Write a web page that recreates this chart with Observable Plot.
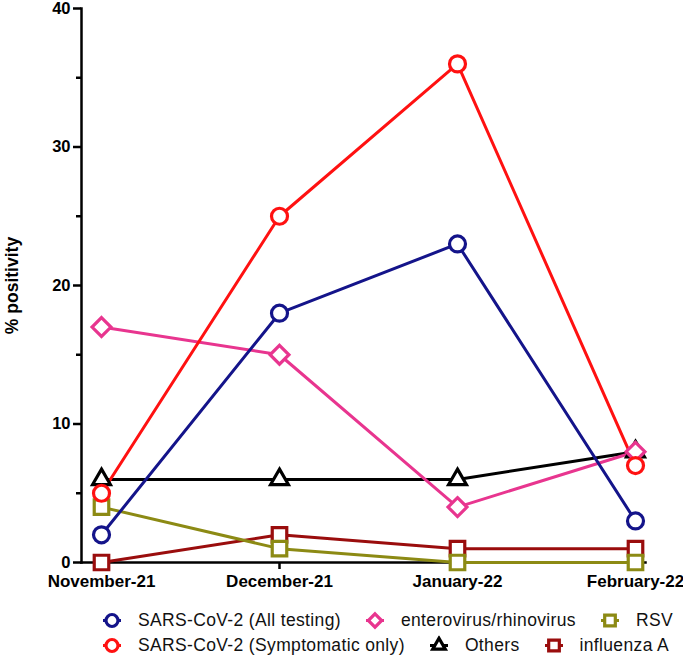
<!DOCTYPE html>
<html><head><meta charset="utf-8">
<script src="https://cdn.jsdelivr.net/npm/d3@7"></script>
<script src="https://cdn.jsdelivr.net/npm/@observablehq/plot@0.6"></script>
<style>
body{margin:0;background:#fff;font-family:"Liberation Sans",Arial,sans-serif;}
#chart svg{display:block;}
#legend{position:relative;width:683px;height:61px;font-size:17.5px;letter-spacing:0.35px;color:#111;}
.row{position:absolute;left:102px;display:flex;align-items:center;white-space:nowrap;transform:translateY(-50%);}
.item{display:flex;align-items:center;margin-right:24px;}
.item svg{display:block;margin-right:16px;}
</style></head><body>
<div id="chart"></div><div id="legend"></div>
<script>
const months = ["November-21","December-21","January-22","February-22"];
const sarsAll = [2,18,23,3];
const sarsSym = [5,25,36,7];
const entero  = [17,15,4,8];
const others  = [6,6,6,8];
const rsv     = [4,1,0,0];
const fluA    = [0,2,1,1];
const yMajor = [0,10,20,30,40];
const yMinor = [5,15,25,35];
const yLabel = "% positivity";

const series = [
  {name:"Others", values:others, color:"#000000", symbol:"triangle2", r:8.5},
  {name:"influenza A", values:fluA, color:"#9a0d0d", symbol:"square", r:8.2},
  {name:"RSV", values:rsv, color:"#8c8a14", symbol:"square", r:8.2},
  {name:"enterovirus/rhinovirus", values:entero, color:"#e8358f", symbol:"diamond2", r:8.5},
  {name:"SARS-CoV-2 (All testing)", values:sarsAll, color:"#14148a", symbol:"circle", r:8},
  {name:"SARS-CoV-2 (Symptomatic only)", values:sarsSym, color:"#ff1111", symbol:"circle", r:8}
];
const legendOrder = [
  ["SARS-CoV-2 (All testing)","enterovirus/rhinovirus","RSV"],
  ["SARS-CoV-2 (Symptomatic only)","Others","influenza A"]
];

const marks = [];
for (const s of series) {
  const rows = months.map((m,i)=>({month:m, value:s.values[i]}));
  marks.push(Plot.line(rows,{x:"month",y:"value",stroke:s.color,strokeWidth:3}));
}
for (const s of series) {
  const rows = months.map((m,i)=>({month:m, value:s.values[i]}));
  marks.push(Plot.dot(rows,{x:"month",y:"value",stroke:s.color,fill:"white",strokeWidth:3.2,symbol:s.symbol,r:s.r}));
}

const plot = Plot.plot({
  width:683, height:600,
  marginLeft:81, marginRight:38, marginTop:8, marginBottom:38,
  style:{fontFamily:"Liberation Sans, Arial, sans-serif", color:"#000", background:"#fff", overflow:"visible"},
  x:{type:"point", domain:months, padding:0, insetLeft:19, insetRight:9, axis:null},
  y:{domain:[0,40], axis:null},
  marks:[
    Plot.axisY({ticks:yMinor, tickSize:5, tickFormat:()=>"", strokeWidth:2.5, label:null}),
    Plot.axisY({ticks:yMajor, tickSize:8, tickPadding:3, strokeWidth:2.5, fontSize:16.5, fontWeight:"bold", label:null}),
    Plot.text([yLabel], {frameAnchor:"left", textAnchor:"middle", dx:-69, rotate:-90, fontSize:17.5, fontWeight:"bold", fill:"#000"}),
    Plot.axisX({tickSize:7, tickPadding:5, strokeWidth:2.5, fontSize:17, fontWeight:"bold", label:null}),
    Plot.frame({anchor:"left", strokeWidth:2.5}),
    Plot.frame({anchor:"bottom", strokeWidth:2.5}),
    ...marks
  ]
});
document.getElementById("chart").appendChild(plot);

// legend
const legend = d3.select("#legend");
const rowY = [20, 45];
const symMap = {circle:d3.symbolCircle, square:d3.symbolSquare, diamond2:d3.symbolDiamond2, triangle2:d3.symbolTriangle2};
legendOrder.forEach((row,ri)=>{
  const rowDiv = legend.append("div").attr("class","row").style("top",rowY[ri]+"px");
  row.forEach(name=>{
    const s = series.find(d=>d.name===name);
    const item = rowDiv.append("div").attr("class","item");
    const svg = item.append("svg").attr("width",20).attr("height",20);
    svg.append("line").attr("x1",1).attr("x2",19).attr("y1",10).attr("y2",10).attr("stroke",s.color).attr("stroke-width",3);
    svg.append("path").attr("transform","translate(10,10)")
      .attr("d",d3.symbol(symMap[s.symbol], Math.PI*6*6)())
      .attr("fill","white").attr("stroke",s.color).attr("stroke-width",3.2);
    item.append("span").text(name);
  });
});
</script>
</body></html>
